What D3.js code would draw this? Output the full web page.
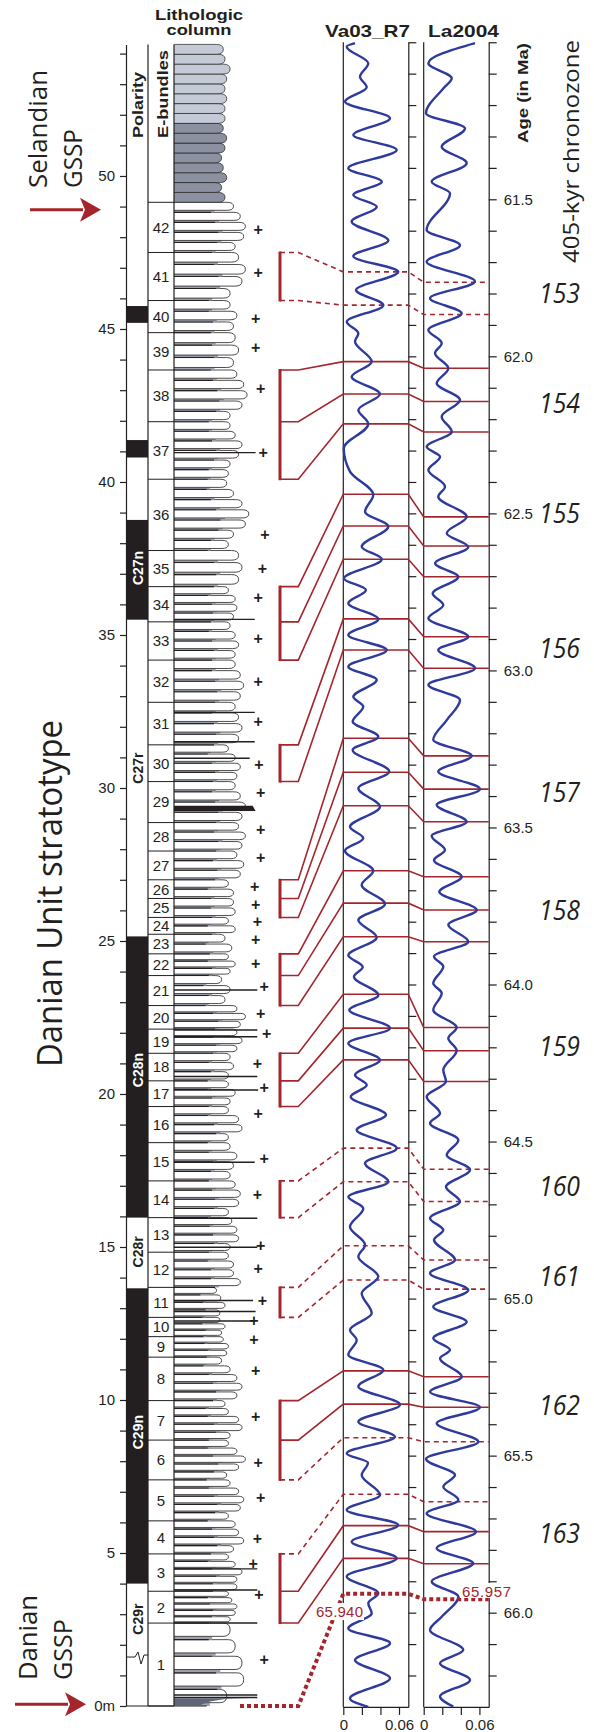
<!DOCTYPE html>
<html>
<head>
<meta charset="utf-8">
<script src="https://cdn.jsdelivr.net/npm/d3@7"></script>
<style>
  body { margin: 0; background: #fff; }
  svg { display: block; }
</style>
</head>
<body>
<div class="chart"></div>
<script>
// ---------- data ----------

// E-bundle boundaries (m), bundle n spans bundleBounds[n-1]..bundleBounds[n]
var bundleBounds = [0, 2.71, 3.75, 4.97, 6.05, 7.39, 8.69, 9.98, 11.40, 12.07, 12.70, 13.68, 14.83, 15.96,
  17.16, 18.41, 19.59, 20.43, 21.33, 22.12, 22.89, 23.87, 24.58, 25.22, 25.77, 26.39, 27.0, 27.94, 28.87,
  30.21, 31.41, 32.80, 34.18, 35.43, 36.58, 37.76, 40.09, 41.97, 43.66, 44.88, 45.93, 47.5, 49.14];
var bundleLabels = d3.range(1, 43).map(String);

// polarity zones: name, base, top, normal?, label depth
var polarity = [
  ["C29r", 0, 4.0, false, 2.84],
  ["C29n", 4.0, 13.65, true, 8.95],
  ["C28r", 13.65, 15.96, false, 14.84],
  ["C28n", 15.96, 25.15, true, 20.78],
  ["C27r", 25.15, 35.5, false, 30.65],
  ["C27n", 35.5, 38.76, true, 37.19]
];
var shortEvents = [[40.8, 41.37], [45.2, 45.75]];
var polarityBreak = 1.6;

// relative weathering profile of limestone beds in each E-bundle (bottom to top)
var bundleBeds = [
  [0.62, 0.82, 0.8, 0.72, 0.66], [0.66, 0.72, 0.74, 0.68, 0.64], [0.74, 0.74, 0.8, 0.72, 0.64],
  [0.7, 0.82, 0.76, 0.72], [0.64, 0.78, 0.82, 0.76, 0.66], [0.62, 0.76, 0.84, 0.74, 0.64],
  [0.66, 0.8, 0.76, 0.64, 0.6], [0.74, 0.8, 0.74, 0.66, 0.56], [0.62, 0.64, 0.58],
  [0.56, 0.6, 0.54], [0.54, 0.6, 0.55, 0.5], [0.78, 0.7, 0.7, 0.64],
  [0.66, 0.76, 0.74, 0.68], [0.64, 0.76, 0.78, 0.72], [0.66, 0.7, 0.74, 0.66],
  [0.64, 0.8, 0.76, 0.64], [0.66, 0.72, 0.64], [0.64, 0.7, 0.66],
  [0.74, 0.8, 0.74], [0.78, 0.84, 0.74], [0.6, 0.66, 0.56],
  [0.66, 0.72, 0.64], [0.68, 0.6], [0.72, 0.64],
  [0.72, 0.7], [0.7, 0.64], [0.78, 0.82, 0.74],
  [0.8, 0.84, 0.76], [0.8, 0.84, 0.78, 0.72], [0.74, 0.78, 0.72, 0.64],
  [0.76, 0.8, 0.76, 0.72], [0.78, 0.82, 0.78, 0.72], [0.72, 0.76, 0.72, 0.66],
  [0.7, 0.74, 0.72, 0.64], [0.76, 0.8, 0.76], [0.64, 0.7, 0.84, 0.88, 0.8, 0.7, 0.62],
  [0.64, 0.66, 0.76, 0.8, 0.72, 0.66], [0.66, 0.8, 0.86, 0.82, 0.74], [0.7, 0.76, 0.72],
  [0.7, 0.74, 0.66], [0.66, 0.8, 0.84, 0.76], [0.72, 0.82, 0.84, 0.78, 0.7]
];
// grey marly beds above bundle 42 (49.14 - 54.3 m)
var topUnit = [49.14, 54.3];
var topBeds = [0.6, 0.56, 0.62, 0.58, 0.56, 0.6, 0.62, 0.58, 0.6, 0.6, 0.62, 0.6, 0.62, 0.66, 0.6, 0.58];

// thin dark layers running past the beds: depth, extent
var darkLayers = [[0.28, 0.98], [0.36, 0.98], [2.71, 0.98], [3.79, 0.98], [4.48, 0.98], [12.58, 0.94],
  [12.89, 0.96], [13.25, 0.93], [14.99, 0.98], [15.94, 0.98], [17.77, 0.95], [20.13, 0.99], [20.57, 0.98],
  [21.87, 0.98], [22.09, 0.98], [23.4, 0.98], [30.97, 0.89], [31.51, 0.95], [32.47, 0.95], [35.51, 0.95],
  [40.96, 0.96]];
var thickLayer = [29.25, 29.42, 0.96];

// "+" marks: depth, extent
var plusMarks = [[1.53, 1.06], [3.65, 1.0], [4.66, 0.93], [5.49, 0.98], [6.83, 1.02], [7.95, 0.99],
  [9.46, 0.96], [10.98, 0.96], [11.99, 0.94], [12.60, 0.94], [13.25, 1.04], [14.30, 0.99], [15.06, 1.02],
  [16.72, 0.98], [17.91, 1.06], [19.35, 0.99], [20.21, 1.06], [21.01, 0.98], [21.98, 1.09], [22.63, 1.02],
  [23.53, 1.06], [24.26, 0.96], [25.05, 0.96], [25.63, 0.98], [26.20, 0.96], [26.78, 0.95], [27.72, 1.02],
  [28.66, 1.02], [29.85, 1.02], [30.78, 1.0], [32.16, 0.99], [33.49, 0.99], [34.90, 0.99], [36.23, 0.99],
  [37.17, 1.04], [38.29, 1.07], [40.96, 1.05], [43.05, 1.02], [44.39, 0.96], [45.36, 0.96], [46.84, 0.99],
  [48.25, 0.99]];

// eccentricity curves: age (Ma), value
var vaCurve = [[61.003,0.0126],[61.014,0.0037],[61.067,0.0269],[61.110,0.0180],[61.143,0.0252],[61.189,0.0018],
  [61.242,0.0503],[61.295,0.0108],[61.343,0.0575],[61.401,0.0054],[61.444,0.0414],[61.486,0.0108],[61.524,0.0360],
  [61.571,0.0090],[61.631,0.0485],[61.681,0.0108],[61.731,0.0592],[61.789,0.0137],[61.837,0.0431],[61.890,0.0037],
  [61.927,0.0162],[61.953,0.0126],[62.017,0.0306],[62.065,0.0090],[62.120,0.0395],[62.171,0.0162],[62.215,0.0269],
  [62.293,0.0005],[62.367,0.0072],[62.441,0.0323],[62.495,0.0234],[62.542,0.0485],[62.606,0.0198],[62.646,0.0414],
  [62.707,0.0008],[62.744,0.0244],[62.786,0.0054],[62.837,0.0377],[62.887,0.0054],[62.935,0.0467],[62.988,0.0054],
  [63.030,0.0360],[63.084,0.0108],[63.115,0.0215],[63.163,0.0101],[63.211,0.0377],[63.253,0.0101],[63.322,0.0495],
  [63.375,0.0162],[63.434,0.0395],[63.498,0.0072],[63.534,0.0215],[63.574,0.0018],[63.638,0.0323],[63.683,0.0198],
  [63.744,0.0449],[63.795,0.0162],[63.850,0.0360],[63.907,0.0054],[63.944,0.0209],[63.975,0.0115],[64.034,0.0377],
  [64.081,0.0065],[64.139,0.0503],[64.187,0.0054],[64.240,0.0395],[64.288,0.0126],[64.320,0.0252],[64.357,0.0080],
  [64.415,0.0460],[64.463,0.0144],[64.521,0.0575],[64.569,0.0234],[64.628,0.0485],[64.676,0.0054],[64.713,0.0215],
  [64.771,0.0072],[64.829,0.0234],[64.867,0.0162],[64.930,0.0377],[64.983,0.0198],[65.047,0.0306],[65.100,0.0072],
  [65.132,0.0144],[65.179,0.0054],[65.227,0.0431],[65.280,0.0162],[65.338,0.0611],[65.392,0.0162],[65.440,0.0557],
  [65.493,0.0037],[65.523,0.0266],[65.562,0.0198],[65.625,0.0395],[65.673,0.0037],[65.721,0.0592],[65.774,0.0090],
  [65.827,0.0575],[65.885,0.0037],[65.938,0.0377],[65.970,0.0269],[66.002,0.0306],[66.050,0.0054],[66.097,0.0503],
  [66.151,0.0126],[66.209,0.0503],[66.273,0.0072],[66.300,0.0269]];
var laCurve = [[61.003,0.0552],[61.067,0.0050],[61.115,0.0302],[61.147,0.0211],[61.226,0.0025],[61.274,0.0445],
  [61.333,0.0194],[61.385,0.0463],[61.444,0.0086],[61.481,0.0283],[61.598,0.0032],[61.646,0.0391],[61.699,0.0032],
  [61.762,0.0552],[61.815,0.0068],[61.863,0.0409],[61.916,0.0050],[61.958,0.0194],[61.990,0.0122],[62.038,0.0265],
  [62.086,0.0140],[62.139,0.0391],[62.192,0.0194],[62.240,0.0302],[62.288,0.0032],[62.320,0.0176],[62.362,0.0050],
  [62.415,0.0229],[62.447,0.0157],[62.511,0.0463],[62.563,0.0248],[62.607,0.0480],[62.659,0.0122],[62.702,0.0373],
  [62.755,0.0097],[62.792,0.0211],[62.834,0.0050],[62.893,0.0480],[62.935,0.0157],[62.993,0.0552],[63.046,0.0050],
  [63.094,0.0391],[63.158,0.0248],[63.221,0.0103],[63.272,0.0517],[63.322,0.0157],[63.378,0.0606],[63.428,0.0140],
  [63.482,0.0463],[63.527,0.0086],[63.572,0.0229],[63.604,0.0111],[63.657,0.0409],[63.705,0.0168],[63.763,0.0571],
  [63.810,0.0265],[63.864,0.0480],[63.911,0.0111],[63.943,0.0211],[63.996,0.0103],[64.028,0.0194],[64.081,0.0103],
  [64.137,0.0355],[64.171,0.0265],[64.210,0.0355],[64.272,0.0211],[64.309,0.0240],[64.357,0.0032],[64.410,0.0176],
  [64.442,0.0068],[64.495,0.0373],[64.543,0.0248],[64.590,0.0499],[64.644,0.0240],[64.691,0.0391],[64.744,0.0068],
  [64.782,0.0211],[64.813,0.0111],[64.877,0.0337],[64.919,0.0068],[64.973,0.0480],[65.026,0.0103],[65.074,0.0463],
  [65.126,0.0103],[65.164,0.0283],[65.190,0.0176],[65.249,0.0409],[65.297,0.0068],[65.346,0.0606],[65.397,0.0140],
  [65.456,0.0588],[65.511,0.0025],[65.562,0.0337],[65.599,0.0211],[65.641,0.0373],[65.684,0.0032],[65.742,0.0563],
  [65.795,0.0140],[65.843,0.0534],[65.901,0.0086],[65.949,0.0373],[66.013,0.0194],[66.055,0.0068],[66.119,0.0426],
  [66.161,0.0176],[66.214,0.0499],[66.267,0.0176],[66.299,0.0319]];

// 405-kyr chronozones and their tie points
var chronozones = ["153", "154", "155", "156", "157", "158", "159", "160", "161", "162", "163"];
var chronozoneAges = [61.80, 62.149, 62.50, 62.929, 63.387, 63.763, 64.198, 64.644, 64.930, 65.339, 65.747];
var tieDepths = [[47.5, 45.93], [43.66, 41.97, 40.09], [36.58, 35.43, 34.18], [31.41, 30.21],
  [27.0, 26.39, 25.77], [24.58, 23.87, 22.89], [21.33, 20.43, 19.59], [17.16, 15.96], [13.68, 12.70],
  [9.98, 8.69, 7.39], [4.97, 3.75, 2.71]];
var tieVa = [[61.731, 61.837], [62.017, 62.120, 62.215], [62.439, 62.540, 62.646], [62.836, 62.935],
  [63.216, 63.324, 63.431], [63.638, 63.741, 63.848], [64.031, 64.139, 64.240], [64.521, 64.628],
  [64.832, 64.941], [65.230, 65.336, 65.443], [65.623, 65.723, 65.827]];
var tieLa = [[61.764, 61.867], [62.038, 62.144, 62.241], [62.511, 62.604, 62.702], [62.893, 62.993],
  [63.272, 63.378, 63.482], [63.657, 63.763, 63.864], [64.137, 64.211, 64.309], [64.588, 64.691],
  [64.877, 64.970], [65.249, 65.346, 65.456], [65.647, 65.742, 65.844]];
var tieDashed = [[1, 1], [0, 0, 0], [0, 0, 0], [0, 0], [0, 0, 0], [0, 0, 0], [0, 0, 0], [1, 1], [1, 1],
  [0, 0, 1], [1, 0, 0]];

// K/Pg boundary ages
var kpgVa = 65.940;
var kpgLa = 65.957;

// axis ticks
var depthTicks = d3.range(0, 55);
var depthLabels = [0, 5, 10, 15, 20, 25, 30, 35, 40, 45, 50];
var ageTicks = d3.range(610, 663).map(d => d / 10);
var ageLabels = ["61.5", "62.0", "62.5", "63.0", "63.5", "64.0", "64.5", "65.0", "65.5", "66.0"];
var eccTicks = [0, 0.02, 0.04, 0.06];
var eccLabels = ["0", "0.06"];

// ---------- drawing ----------
var svgWidth = 594;
var svgHeight = 1732;

var red = "#a4262c";
var blue = "#2f3b9c";
var ink = "#231f20";
var sansFont = "'Liberation Sans', Arial, sans-serif";
var myriad = "'Open Sans', 'Noto Sans', sans-serif";

var svg = d3.select(".chart")
  .append("svg")
  .attr("width", svgWidth)
  .attr("height", svgHeight)
  .style("font-family", sansFont);

svg.append("rect").attr("width", svgWidth).attr("height", svgHeight).attr("fill", "#fff");

// scales
var depthY = d3.scaleLinear().domain([0, 54.3]).range([1706, 44.4]);
var ageY = d3.scaleLinear().domain([61, 66.3]).range([42.25, 1706.9]);
var vaX = d3.scaleLinear().domain([0, 0.07]).range([343.3, 408.3]);
var laX = d3.scaleLinear().domain([0, 0.07]).range([423.7, 488.7]);
var lithoX = d3.scaleLinear().domain([0, 1]).range([174, 259]);

var polLeft = 126, polRight = 148, bundleRight = 174;

// polarity column
var polGroup = svg.append("g");
polarity.forEach(p => {
  if (p[3]) {
    polGroup.append("rect")
      .attr("x", polLeft).attr("width", polRight - polLeft)
      .attr("y", depthY(p[2])).attr("height", depthY(p[1]) - depthY(p[2]))
      .attr("fill", ink);
  }
  polGroup.append("text")
    .attr("transform", `translate(${polRight - 5}, ${depthY(p[4])}) rotate(-90)`)
    .attr("text-anchor", "middle")
    .style("font-size", "14px")
    .style("font-weight", "bold")
    .attr("fill", p[3] ? "#fff" : ink)
    .text(p[0]);
});
shortEvents.forEach(e => {
  polGroup.append("rect")
    .attr("x", polLeft).attr("width", polRight - polLeft)
    .attr("y", depthY(e[1])).attr("height", depthY(e[0]) - depthY(e[1]))
    .attr("fill", ink);
});
// break symbol in C29r
var by = depthY(polarityBreak);
polGroup.append("path")
  .attr("d", `M${polLeft},${by}L${polLeft + 9},${by}L${polLeft + 12},${by - 5}L${polLeft + 15},${by + 7}L${polLeft + 18},${by - 2}L${polRight},${by - 2}`)
  .attr("fill", "none").attr("stroke", ink).attr("stroke-width", 1);

// column frames
svg.append("line").attr("x1", polRight).attr("x2", polRight)
  .attr("y1", depthY(54.3)).attr("y2", depthY(0)).attr("stroke", ink).attr("stroke-width", 1.2);
svg.append("line").attr("x1", polLeft).attr("x2", bundleRight)
  .attr("y1", depthY(0)).attr("y2", depthY(0)).attr("stroke", ink).attr("stroke-width", 1.2);

// E-bundles
var bundleGroup = svg.append("g");
bundleBounds.forEach(b => {
  bundleGroup.append("line")
    .attr("x1", polRight).attr("x2", bundleRight)
    .attr("y1", depthY(b)).attr("y2", depthY(b))
    .attr("stroke", ink).attr("stroke-width", 1);
});
bundleLabels.forEach((lab, i) => {
  bundleGroup.append("text")
    .attr("x", (polRight + bundleRight) / 2)
    .attr("y", depthY((bundleBounds[i] + bundleBounds[i + 1]) / 2))
    .attr("dy", "0.36em")
    .attr("text-anchor", "middle")
    .style("font-size", "15px")
    .attr("fill", ink)
    .text(lab);
});

// lithologic column
var lith = svg.append("g");

function lobePath(d0, d1, w) {
  var y0 = depthY(d0), y1 = depthY(d1);
  var xe = lithoX(w);
  var r = Math.min(7, (y0 - y1) * 0.8);
  var ym = (y0 + y1) / 2;
  return `M${bundleRight},${y0}L${xe - r},${y0}Q${xe},${y0} ${xe},${ym}Q${xe},${y1} ${xe - r},${y1}L${bundleRight},${y1}`;
}

bundleBeds.forEach((beds, i) => {
  var base = bundleBounds[i], top = bundleBounds[i + 1];
  var t = (top - base) / beds.length;
  beds.forEach((w, j) => {
    var b0 = base + j * t;
    var m1 = b0 + t * 0.2;
    var b1 = b0 + t;
    // marl interbed
    lith.append("rect")
      .attr("x", bundleRight).attr("y", depthY(m1))
      .attr("width", lithoX(w * 0.68) - bundleRight)
      .attr("height", depthY(b0) - depthY(m1))
      .attr("fill", "#9ba1ae");
    lith.append("line")
      .attr("x1", bundleRight).attr("x2", lithoX(w * 0.62))
      .attr("y1", depthY(b0)).attr("y2", depthY(b0))
      .attr("stroke", ink).attr("stroke-width", 1.1);
    // limestone bed
    lith.append("path")
      .attr("d", lobePath(m1, b1, w))
      .attr("fill", "#fff").attr("stroke", ink).attr("stroke-width", 0.8);
  });
});

// grey marly beds on top
var tt = (topUnit[1] - topUnit[0]) / topBeds.length;
topBeds.forEach((w, j) => {
  var b0 = topUnit[0] + j * tt;
  lith.append("path")
    .attr("d", lobePath(b0, b0 + tt, w))
    .attr("fill", j < 8 ? "#8b91a1" : "#c4cbd7")
    .attr("stroke", ink).attr("stroke-width", 0.7);
});

darkLayers.forEach(l => {
  lith.append("line")
    .attr("x1", bundleRight).attr("x2", lithoX(l[1]))
    .attr("y1", depthY(l[0])).attr("y2", depthY(l[0]))
    .attr("stroke", ink).attr("stroke-width", 1.4);
});
lith.append("path")
  .attr("d", `M${bundleRight},${depthY(thickLayer[0])}L${lithoX(thickLayer[2])},${depthY(thickLayer[0])}L${lithoX(thickLayer[2]) - 3},${depthY(thickLayer[1])}L${bundleRight},${depthY(thickLayer[1])}Z`)
  .attr("fill", ink);

// dark base of bundle 1
lith.append("path")
  .attr("d", `M${bundleRight},${depthY(0)}L${lithoX(0.3)},${depthY(0)}Q${lithoX(0.42)},${depthY(0.25)} ${lithoX(0.9)},${depthY(0.25)}L${bundleRight},${depthY(0.25)}Z`)
  .attr("fill", "#5d6577");

svg.append("line").attr("x1", bundleRight).attr("x2", bundleRight)
  .attr("y1", depthY(54.3)).attr("y2", depthY(0)).attr("stroke", ink).attr("stroke-width", 1.2);

plusMarks.forEach(p => {
  svg.append("text")
    .attr("x", lithoX(p[1])).attr("y", depthY(p[0]))
    .attr("dy", "0.35em")
    .attr("text-anchor", "middle")
    .style("font-size", "16px").style("font-weight", "bold")
    .attr("fill", ink)
    .text("+");
});

// depth axis
var depthAxis = d3.axisLeft(depthY)
  .tickValues(depthTicks)
  .tickSize(6)
  .tickSizeOuter(0)
  .tickPadding(5)
  .tickFormat(d => depthLabels.indexOf(d) < 0 ? "" : (d === 0 ? "0m" : d));
svg.append("g")
  .attr("transform", `translate(${polLeft}, 0)`)
  .call(depthAxis);

// eccentricity panels
var vaRight = vaX.range()[1], laRight = laX.range()[1];
[vaX(0), laX(0)].forEach(x => {
  svg.append("line").attr("x1", x).attr("x2", x)
    .attr("y1", ageY(61)).attr("y2", ageY(66.3))
    .attr("stroke", ink).attr("stroke-width", 1.2);
});

var vaAxis = d3.axisRight(ageY).tickValues(ageTicks).tickSize(8).tickSizeOuter(0).tickFormat("");
svg.append("g").attr("transform", `translate(${vaRight}, 0)`).call(vaAxis);

var laAxis = d3.axisRight(ageY).tickValues(ageTicks).tickSize(8).tickSizeOuter(0).tickPadding(7)
  .tickFormat(d => ageLabels.indexOf(d.toFixed(1)) < 0 ? "" : d.toFixed(1));
svg.append("g").attr("transform", `translate(${laRight}, 0)`).call(laAxis);

var vaBottom = d3.axisBottom(vaX).tickValues(eccTicks).tickSize(8).tickSizeOuter(0).tickPadding(4)
  .tickFormat(d => eccLabels.indexOf(String(d)) < 0 ? "" : String(d));
svg.append("g").attr("transform", `translate(0, ${ageY(66.3)})`).call(vaBottom);
var laBottom = d3.axisBottom(laX).tickValues(eccTicks).tickSize(8).tickSizeOuter(0).tickPadding(4)
  .tickFormat(d => eccLabels.indexOf(String(d)) < 0 ? "" : String(d));
svg.append("g").attr("transform", `translate(0, ${ageY(66.3)})`).call(laBottom);

svg.selectAll(".domain, .tick line").attr("stroke", ink).attr("stroke-width", 1.2);
svg.selectAll(".tick text").attr("fill", ink).style("font-size", "15px").style("font-family", sansFont);

// correlation lines
var tieGroup = svg.append("g");
var bracketX = 280, bracketTick = 298.3;
chronozones.forEach((c, i) => {
  var deps = tieDepths[i];
  tieGroup.append("line")
    .attr("x1", bracketX).attr("x2", bracketX)
    .attr("y1", depthY(deps[0]) - 1).attr("y2", depthY(deps[deps.length - 1]) + 1)
    .attr("stroke", red).attr("stroke-width", 3);
  deps.forEach((d, j) => {
    var pts = [[bracketX, depthY(d)], [bracketTick, depthY(d)],
      [vaX(0), ageY(tieVa[i][j])], [vaRight, ageY(tieVa[i][j])],
      [laX(0), ageY(tieLa[i][j])], [laRight, ageY(tieLa[i][j])]];
    tieGroup.append("path")
      .attr("d", d3.line()(pts))
      .attr("fill", "none")
      .attr("stroke", red)
      .attr("stroke-width", 1.6)
      .attr("stroke-dasharray", tieDashed[i][j] ? "5,4" : null);
  });
  svg.append("text")
    .attr("x", 539).attr("y", ageY(chronozoneAges[i]))
    .attr("dy", "0.36em")
    .style("font-family", myriad)
    .style("font-style", "italic")
    .style("font-size", "27px")
    .attr("textLength", 41)
    .attr("lengthAdjust", "spacingAndGlyphs")
    .attr("fill", ink)
    .text(c);
});

// curves
var vaLine = d3.line().x(d => vaX(d[1])).y(d => ageY(d[0])).curve(d3.curveMonotoneY);
var laLine = d3.line().x(d => laX(d[1])).y(d => ageY(d[0])).curve(d3.curveMonotoneY);
svg.append("path").attr("d", vaLine(vaCurve)).attr("fill", "none").attr("stroke", blue).attr("stroke-width", 2.4);
svg.append("path").attr("d", laLine(laCurve)).attr("fill", "none").attr("stroke", blue).attr("stroke-width", 2.4);

// K/Pg boundary
var kpgPts = [[240, depthY(0)], [bracketTick, depthY(0)], [vaX(0), ageY(kpgVa)], [vaRight, ageY(kpgVa)],
  [laX(0), ageY(kpgLa)], [laRight, ageY(kpgLa)]];
svg.append("path")
  .attr("d", d3.line()(kpgPts))
  .attr("fill", "none").attr("stroke", red)
  .attr("stroke-width", 4).attr("stroke-dasharray", "4,3");

svg.append("rect").attr("x", 315).attr("y", 1603).attr("width", 49).attr("height", 17).attr("fill", "#fff");
svg.append("text").attr("x", 316).attr("y", 1617).attr("fill", red)
  .style("font-size", "15px").attr("textLength", 47).text(kpgVa.toFixed(3));
svg.append("rect").attr("x", 460).attr("y", 1583).attr("width", 52).attr("height", 15).attr("fill", "#fff");
svg.append("text").attr("x", 462).attr("y", 1597).attr("fill", red)
  .style("font-size", "15px").attr("textLength", 49).text(kpgLa.toFixed(3));

// headers
function header(x, y, txt, size, len) {
  var t = svg.append("text").attr("x", x).attr("y", y)
    .attr("text-anchor", "middle")
    .style("font-size", size + "px").style("font-weight", "bold")
    .attr("fill", ink).text(txt);
  if (len) t.attr("textLength", len).attr("lengthAdjust", "spacingAndGlyphs");
}
header(199, 20, "Lithologic", 15, 88);
header(199, 35, "column", 15, 65);
header(367.5, 37, "Va03_R7", 17, 85);
header(463.5, 37, "La2004", 17, 71);

function vtext(x, y, txt, size, len, opts) {
  var t = svg.append("text")
    .attr("transform", `translate(${x}, ${y}) rotate(-90)`)
    .style("font-size", size + "px")
    .attr("fill", ink)
    .attr("textLength", len)
    .attr("lengthAdjust", "spacingAndGlyphs")
    .text(txt);
  if (opts && opts.bold) t.style("font-weight", "bold");
  if (opts && opts.myriad) t.style("font-family", myriad);
  return t;
}
vtext(143, 138, "Polarity", 14, 66, {bold: true});
vtext(168, 138, "E-bundles", 14, 88, {bold: true});
vtext(528, 143, "Age (in Ma)", 14, 100, {bold: true});
vtext(579, 263, "405-kyr chronozone", 22, 223, {myriad: true});
vtext(47, 188, "Selandian", 25, 118, {myriad: true});
vtext(82, 188, "GSSP", 25, 59, {myriad: true});
vtext(37, 1680, "Danian", 25, 85, {myriad: true});
vtext(72, 1680, "GSSP", 25, 61, {myriad: true});
vtext(62, 1067, "Danian Unit stratotype", 35, 347, {myriad: true});

// GSSP arrows
function arrow(x0, x1, y) {
  svg.append("line").attr("x1", x0).attr("x2", x1 - 18).attr("y1", y).attr("y2", y)
    .attr("stroke", red).attr("stroke-width", 3);
  svg.append("path")
    .attr("d", `M${x1 - 21},${y - 12}L${x1},${y}L${x1 - 21},${y + 12}L${x1 - 16},${y}Z`)
    .attr("fill", red);
}
arrow(30, 101, depthY(48.9));
arrow(15, 86, depthY(0.06));
</script>
</body>
</html>
